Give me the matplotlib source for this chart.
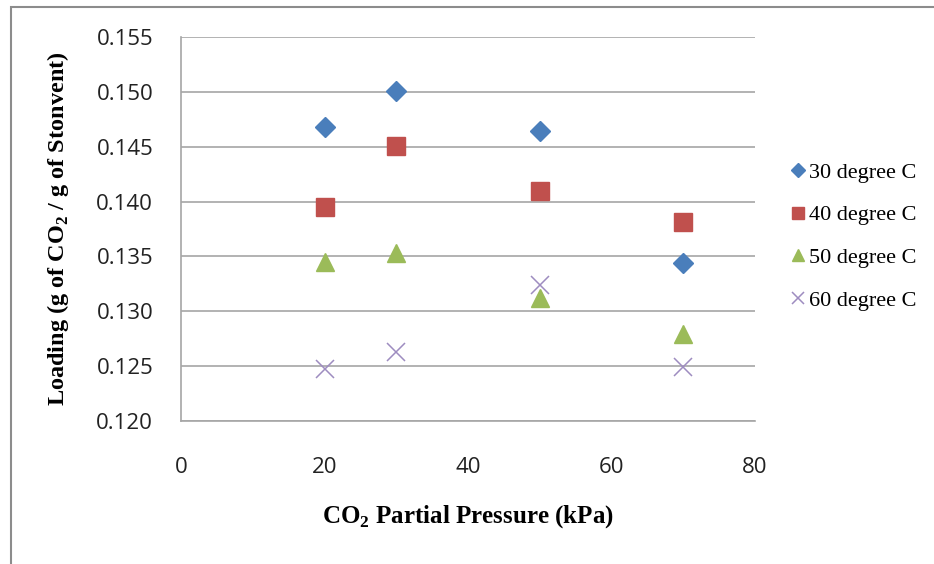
import matplotlib
matplotlib.use("Agg")
import matplotlib.pyplot as plt
from matplotlib.patches import Rectangle

# data
pressure = [20, 30, 50, 70]
load_30 = [0.1468, 0.1501, 0.1464, 0.1344]
load_40 = [0.1395, 0.1451, 0.1410, 0.1381]
load_50 = [0.1345, 0.1353, 0.1312, 0.1279]
load_60 = [0.1247, 0.1263, 0.1324, 0.1249]
labels = ["30 degree C", "40 degree C", "50 degree C", "60 degree C"]

plt.rcParams['mathtext.fontset'] = 'custom'
plt.rcParams['mathtext.rm'] = 'Liberation Serif'
plt.rcParams['mathtext.bf'] = 'Liberation Serif:bold'

fig = plt.figure(figsize=(9.34, 5.64), dpi=100)
ax = fig.add_axes([181 / 934, 1 - 421 / 564, (755 - 181) / 934, (421 - 37) / 564])

ax.plot(pressure, load_30, 'D', color='#4A7EBB', markersize=10, label=labels[0])
ax.plot(pressure, load_40, 's', color='#C0504D', markersize=13, label=labels[1])
ax.plot(pressure, load_50, '^', color='#9BBB59', markersize=13, label=labels[2])
ax.plot(pressure, load_60, 'x', color='#9E8CC0', markersize=13, markeredgewidth=1.1,
        label=labels[3])

ax.set_xlim(0, 80)
ax.set_ylim(0.120, 0.155)
ax.set_xticks([0, 20, 40, 60, 80])
ax.set_yticks([0.120, 0.125, 0.130, 0.135, 0.140, 0.145, 0.150, 0.155])
ax.yaxis.set_major_formatter(matplotlib.ticker.FormatStrFormatter('%.3f'))
ax.grid(axis='y', color='#A6A6A6', linewidth=1.2)
ax.set_axisbelow(True)
for s in ['top', 'right']:
    ax.spines[s].set_visible(False)
for s in ['left', 'bottom']:
    ax.spines[s].set_color('#A6A6A6')
    ax.spines[s].set_linewidth(1.2)
ax.tick_params(length=0, labelsize=16)
ax.tick_params(axis='y', pad=20)
ax.tick_params(axis='x', pad=26)
for t in ax.get_xticklabels() + ax.get_yticklabels():
    t.set_fontfamily('Open Sans')
    t.set_color('#222222')

ax.set_xlabel(r"CO$_\mathbf{2}$ Partial Pressure (kPa)", fontfamily='Liberation Serif',
              fontweight='bold', fontsize=18, labelpad=18)
ax.set_ylabel(r"Loading (g of CO$_\mathbf{2}$ / g of Stonvent)", fontfamily='Liberation Serif',
              fontweight='bold', fontsize=17.5, labelpad=18)

fig.legend(loc='upper left', bbox_to_anchor=(767 / 934, 1 - 142 / 564), frameon=False,
           prop={'family': 'Liberation Serif', 'size': 16}, handletextpad=0.0,
           labelspacing=1.0, handlelength=1.0, markerscale=0.7)

# partial frame of the cropped original
fig.patches.append(Rectangle((11 / 934, -0.1), 1.2, 1 - 7 / 564 + 0.1, transform=fig.transFigure,
                             fill=False, edgecolor='#8C8C8C', linewidth=1.5))

fig.savefig('out.png', dpi=100)
